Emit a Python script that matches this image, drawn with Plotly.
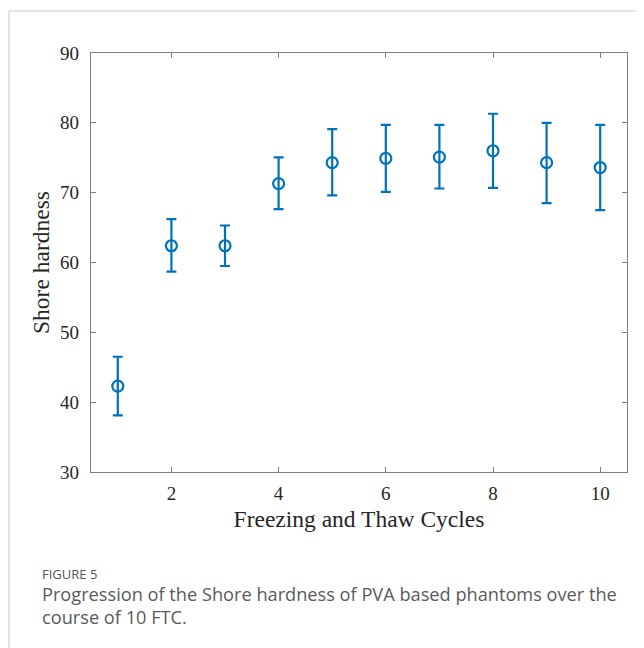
import plotly.graph_objects as go

cycles = [1, 2, 3, 4, 5, 6, 7, 8, 9, 10]
hardness = [42.3, 62.4, 62.4, 71.3, 74.3, 74.9, 75.1, 76.0, 74.3, 73.6]
err_plus = [4.2, 3.8, 2.9, 3.75, 4.8, 4.8, 4.6, 5.3, 5.7, 6.1]
err_minus = [4.2, 3.7, 2.9, 3.65, 4.7, 4.8, 4.5, 5.3, 5.8, 6.1]

x_ticks = [2, 4, 6, 8, 10]
y_ticks = [30, 40, 50, 60, 70, 80, 90]

blue = "#0072BD"
OFF = 8  # page body margin
W, H = 644 - OFF, 648 - OFF
L, R, T, B = 91 - OFF, 627 - OFF, 53 - OFF, 472 - OFF

def px(x):
    return (x - OFF - L) / (R - L)

def py(y):
    return (B - (y - OFF)) / (B - T)

fig = go.Figure()
fig.add_trace(go.Scatter(
    x=cycles, y=hardness, mode="markers",
    marker=dict(symbol="circle-open", size=11, color=blue, line=dict(width=2.2, color=blue)),
    error_y=dict(type="data", symmetric=False, array=err_plus, arrayminus=err_minus,
                 color=blue, thickness=2.2, width=5),
    showlegend=False,
))

axis_common = dict(showline=True, linecolor="#7f7f7f", linewidth=1.3, mirror="allticks",
                   ticks="inside", ticklen=5, tickcolor="#7f7f7f", tickwidth=1,
                   showgrid=False, zeroline=False,
                   tickfont=dict(family="Liberation Serif", size=19, color="#262626"))

fig.update_layout(
    width=W, height=H,
    margin=dict(l=L, r=W - R, t=T, b=H - B, autoexpand=False),
    paper_bgcolor="white", plot_bgcolor="white",
    xaxis=dict(range=[0.5, 10.5], tickvals=x_ticks, ticktext=[str(v) for v in x_ticks],
               ticklabelstandoff=4,
               title=dict(text="Freezing and Thaw Cycles", standoff=7,
                          font=dict(family="Liberation Serif", size=23.5, color="#262626")),
               **axis_common),
    yaxis=dict(range=[30, 90], tickvals=y_ticks, ticktext=[str(v) for v in y_ticks],
               ticklabelstandoff=7,
               title=dict(text="Shore hardness", standoff=3,
                          font=dict(family="Liberation Serif", size=23.5, color="#262626")),
               **axis_common),
    shapes=[
        dict(type="line", xref="paper", yref="paper", x0=px(9), x1=px(660), y0=py(11), y1=py(11),
             line=dict(color="#c8c8c8", width=1)),
        dict(type="line", xref="paper", yref="paper", x0=px(9), x1=px(9), y0=py(11), y1=py(670),
             line=dict(color="#c8c8c8", width=1)),
    ],
    annotations=[
        dict(text="FIGURE 5", xref="paper", yref="paper", x=px(40), y=py(574),
             xanchor="left", yanchor="middle", showarrow=False,
             font=dict(family="Open Sans", size=13, color="#555555")),
        dict(text="Progression of the Shore hardness of PVA based phantoms over the",
             xref="paper", yref="paper", x=px(40), y=py(594),
             xanchor="left", yanchor="middle", align="left", showarrow=False,
             font=dict(family="Open Sans", size=18.2, color="#5a5a5a")),
        dict(text="course of 10 FTC.",
             xref="paper", yref="paper", x=px(40), y=py(617),
             xanchor="left", yanchor="middle", align="left", showarrow=False,
             font=dict(family="Open Sans", size=18.2, color="#5a5a5a")),
    ],
)

fig.write_html("out.html")
